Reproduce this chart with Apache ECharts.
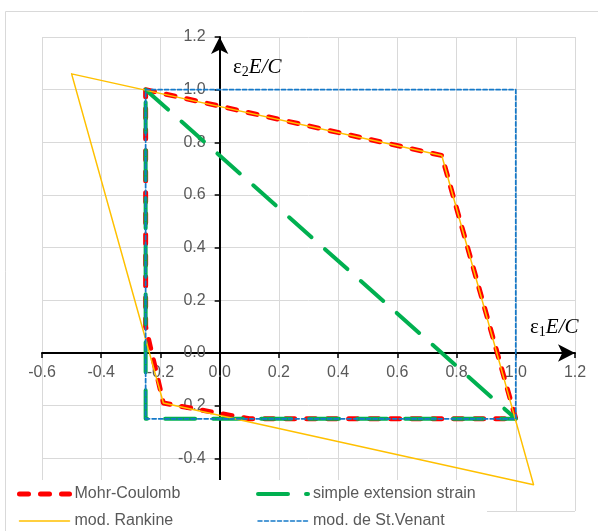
<!DOCTYPE html>
<html>
<head>
<meta charset="utf-8">
<title>Strain criteria in the principal strain plane</title>
<script src="https://cdn.jsdelivr.net/npm/echarts@6/dist/echarts.min.js"></script>
<style>
  html, body { margin: 0; padding: 0; background: #ffffff; }
  #chart { width: 598px; height: 531px; }
</style>
</head>
<body>
<div id="chart"></div>
<script>
// Failure envelopes in the (ε1·E/C, ε2·E/C) plane, each a closed polygon of [x, y] vertices.
const seriesNames = ['Mohr-Coulomb', 'simple extension strain', 'mod. Rankine', 'mod. de St.Venant'];
const mohrCoulomb = [[-0.25, 1.0], [0.75, 0.75], [1.0, -0.25], [0.1, -0.25], [-0.19, -0.19], [-0.25, 0.1], [-0.25, 1.0]];
const simpleExtension = [[-0.25, 1.0], [1.0, -0.25], [-0.25, -0.25], [-0.25, 1.0]];
const modRankine = [[-0.5, 1.06], [0.75, 0.75], [1.06, -0.5], [-0.19, -0.19], [-0.5, 1.06]];
const modStVenant = [[-0.25, -0.25], [1.0, -0.25], [1.0, 1.0], [-0.25, 1.0], [-0.25, -0.25]];

// Axis ranges and tick spacing
const xRange = [-0.6, 1.2];
const yRange = [-0.6, 1.2];
const tickStep = 0.2;

const labelColor = '#595959';
const gridColor = '#d9d9d9';
const sansFont = '"Liberation Sans", Arial, sans-serif';
const serifFont = '"Liberation Serif", "Times New Roman", serif';

// Plot area in pixels
const W = 598, H = 531;
const plot = { left: 42, right: 23, top: 37, bottom: 20 };
const plotW = W - plot.left - plot.right;
const plotH = H - plot.top - plot.bottom;

// Shift each axis from the plot edge to the line through the origin
const yAxisShift = -plotW * (0 - xRange[0]) / (xRange[1] - xRange[0]);
const xAxisShift = -plotH * (0 - yRange[0]) / (yRange[1] - yRange[0]);

const chart = echarts.init(document.getElementById('chart'), null, { renderer: 'canvas' });

function axisCommon(range, shift, margin) {
  return {
    type: 'value',
    min: range[0],
    max: range[1],
    interval: tickStep,
    offset: shift,
    axisLine: {
      show: true,
      onZero: false,
      symbol: ['none', 'arrow'],
      symbolSize: [13, 17],
      lineStyle: { color: '#000000', width: 2 }
    },
    axisTick: { show: true, length: 5, lineStyle: { color: '#000000', width: 1.5 } },
    splitLine: { show: true, lineStyle: { color: gridColor, width: 1 } },
    axisLabel: {
      color: labelColor,
      fontSize: 16,
      fontFamily: sansFont,
      margin: margin,
      formatter: v => v.toFixed(1)
    }
  };
}

function lineSeries(name, data, color, width, dash, z) {
  return {
    name: name,
    type: 'line',
    data: data,
    symbol: 'none',
    showSymbol: false,
    silent: true,
    animation: false,
    z: z,
    lineStyle: { color: color, width: width, type: dash, cap: 'round', join: 'round' },
    itemStyle: { color: color }
  };
}

const titleRich = {
  e: { fontFamily: serifFont, fontSize: 21, lineHeight: 24, color: '#000' },
  s: { fontFamily: serifFont, fontSize: 14, lineHeight: 16, verticalAlign: 'bottom', color: '#000' },
  i: { fontFamily: serifFont, fontSize: 21, fontStyle: 'italic', lineHeight: 24, color: '#000' }
};

const legendText = { fontSize: 16, color: labelColor, fontFamily: sansFont };

function legendColumn(left, items) {
  return {
    orient: 'vertical', left: left, top: 486, height: 50, padding: 0,
    itemWidth: 50, itemHeight: 16, itemGap: 11,
    selectedMode: false, z: 20, textStyle: legendText,
    itemStyle: { opacity: 0 },
    data: items
  };
}

const option = {
  backgroundColor: '#ffffff',
  animation: false,
  grid: { left: plot.left, right: plot.right, top: plot.top, bottom: plot.bottom, containLabel: false },
  xAxis: axisCommon(xRange, xAxisShift, 12),
  yAxis: axisCommon(yRange, yAxisShift, 14),
  series: [
    lineSeries(seriesNames[0], mohrCoulomb, '#ff0000', 5, [9, 12], 2),
    lineSeries(seriesNames[1], simpleExtension, '#00b050', 4, [30, 18], 3),
    lineSeries(seriesNames[2], modRankine, '#ffc000', 1.5, 'solid', 4),
    lineSeries(seriesNames[3], modStVenant, '#1479c9', 1.75, [4, 2.5], 5)
  ],
  legend: [
    legendColumn(17, [
      { name: seriesNames[0], lineStyle: { width: 5 } },
      { name: seriesNames[2], lineStyle: { width: 1.5 } }
    ]),
    legendColumn(256, [
      { name: seriesNames[1], lineStyle: { width: 4 } },
      { name: seriesNames[3], lineStyle: { width: 1.5 } }
    ])
  ],
  graphic: {
    elements: [
      {
        type: 'rect', z: -10, silent: true,
        shape: { x: 5.5, y: 11.5, width: 640, height: 560 },
        style: { fill: 'none', stroke: gridColor, lineWidth: 1 }
      },
      {
        type: 'rect', z: 10, silent: true,
        shape: { x: 6, y: 480, width: 481, height: 60 },
        style: { fill: '#ffffff' }
      },
      {
        type: 'text', left: 233, top: 57, z: 12, silent: true,
        style: { text: '{e|ε}{s|2}{i|E/C}', rich: titleRich, fill: '#000' }
      },
      {
        type: 'text', left: 530, top: 317, z: 12, silent: true,
        style: { text: '{e|ε}{s|1}{i|E/C}', rich: titleRich, fill: '#000' }
      }
    ]
  }
};

chart.setOption(option);
</script>
</body>
</html>
